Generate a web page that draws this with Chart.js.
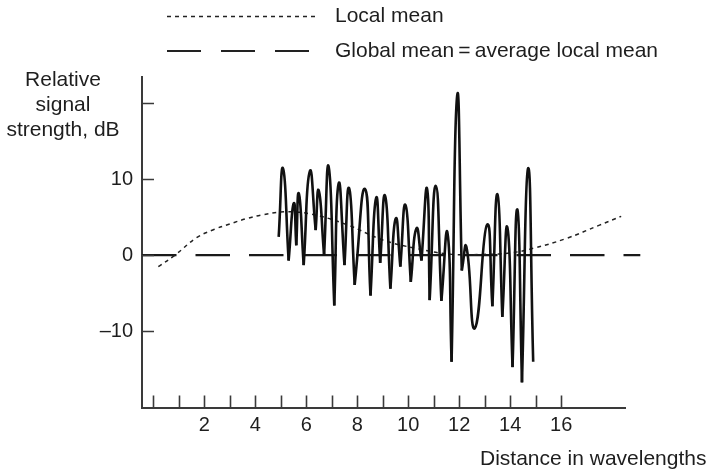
<!DOCTYPE html>
<html>
<head>
<meta charset="utf-8">
<title>Relative signal strength</title>
<script src="https://cdn.jsdelivr.net/npm/chart.js@4.4.1/dist/chart.umd.min.js"></script>
<style>
  html, body { margin: 0; padding: 0; background: #fff; }
  canvas { display: block; }
</style>
</head>
<body>
<canvas id="grafico" width="707" height="469"></canvas>
<script>
// fast fading signal, peaks and nulls
const signalX  = [4.92, 5.09, 5.31, 5.51, 5.61, 5.71, 5.90, 6.14, 6.37, 6.49, 6.70, 6.88, 7.10, 7.27, 7.50, 7.68, 7.90, 8.30, 8.52, 8.74, 8.90, 9.09, 9.30, 9.51, 9.69, 9.89, 10.10, 10.32, 10.52, 10.74, 10.84, 11.08, 11.30, 11.54, 11.70, 11.92, 12.10, 12.28, 12.61, 13.09, 13.30, 13.50, 13.69, 13.89, 14.09, 14.28, 14.46, 14.70, 14.90];
const signalDb = [2.4, 11.4, -0.7, 6.8, 1.3, 8.1, -1.3, 11.0, 3.3, 8.5, 0.0, 11.6, -6.6, 9.4, -1.3, 8.8, -3.9, 8.7, -5.3, 7.5, -1.0, 7.8, -4.4, 4.8, -1.5, 6.6, -3.5, 3.5, -0.7, 8.7, -5.9, 9.1, -6.0, 2.9, -14.0, 21.0, -2.0, 1.1, -9.6, 4.0, -6.7, 8.0, -8.1, 3.6, -14.7, 6.0, -16.7, 11.4, -14.0];
// the one dip that is a smooth valley, not a sharp null
const smoothDips = [12.61];

// local mean (dotted)
const localMeanX  = [0.2, 0.85, 1.7, 2.4, 3.0, 3.65, 4.3, 5.2, 6.2, 7.6, 9.0, 10.3, 11.6, 12.9, 14.0, 14.9, 16.2, 17.5, 18.35];
const localMeanDb = [-1.5, 0.0, 2.3, 3.4, 4.1, 4.8, 5.3, 5.7, 5.4, 4.0, 2.0, 0.9, 0.15, 0.1, 0.3, 0.9, 2.2, 3.95, 5.1];

// global mean (long dashes)
const globalMeanX  = [-0.44, 19.1];
const globalMeanDb = [0, 0];

const xTicks = [0, 1, 2, 3, 4, 5, 6, 7, 8, 9, 10, 11, 12, 13, 14, 15, 16];
const xTickLabels = ['', '', '2', '', '4', '', '6', '', '8', '', '10', '', '12', '', '14', '', '16'];
const yTicks = [-10, 0, 10, 20];
const yTickLabels = ['\u201310', '0', '10', ''];

const FONTE = '"Liberation Sans", Arial, Helvetica, sans-serif';
const COR_TEXTO = '#1e1e1e';
const COR_EIXO = '#3a3a3a';

function pares(xs, ys) {
    return xs.map((x, i) => ({ x: x, y: ys[i] }));
}

// cut the signal at every sharp null so each lobe gets its own curve
function lobulos(xs, ys) {
    const lista = [];
    let inicio = 0;
    for (let i = 1; i < ys.length; i++) {
        const ultimo = i === ys.length - 1;
        const nulo = !ultimo && ys[i] < ys[i - 1] && ys[i] < ys[i + 1] && !smoothDips.includes(xs[i]);
        if (nulo || ultimo) {
            lista.push({
                label: 'Signal',
                data: pares(xs.slice(inicio, i + 1), ys.slice(inicio, i + 1)),
                borderColor: '#111',
                borderWidth: 2.6,
                pointRadius: 0,
                tension: 0.55,
                fill: false
            });
            inicio = i;
        }
    }
    return lista;
}

// inward tick marks, axis titles and the legend block
const decoracao = {
    id: 'decoracao',
    afterDraw(chart) {
        const ctx = chart.ctx;
        const xs = chart.scales.x;
        const ys = chart.scales.y;
        const area = chart.chartArea;

        ctx.save();
        ctx.strokeStyle = COR_EIXO;
        ctx.lineWidth = 1.6;
        ctx.beginPath();
        xTicks.forEach(v => {
            const px = Math.round(xs.getPixelForValue(v)) + 0.5;
            ctx.moveTo(px, area.bottom);
            ctx.lineTo(px, area.bottom - 12);
        });
        yTicks.forEach(v => {
            const py = Math.round(ys.getPixelForValue(v)) + 0.5;
            ctx.moveTo(area.left, py);
            ctx.lineTo(area.left + 12, py);
        });
        ctx.stroke();

        ctx.fillStyle = COR_TEXTO;
        ctx.font = '21px ' + FONTE;
        ctx.textBaseline = 'middle';
        ctx.textAlign = 'center';
        ctx.fillText('Relative', 63, 80);
        ctx.fillText('signal', 63, 105);
        ctx.fillText('strength, dB', 63, 130);

        ctx.textAlign = 'left';
        ctx.fillText('Distance in wavelengths', 480, 459);

        // legend
        ctx.fillText('Local mean', 335, 16);
        ctx.fillText('Global mean\u2009=\u2009average local mean', 335, 51);

        ctx.strokeStyle = '#222';
        ctx.lineWidth = 1.5;
        ctx.setLineDash([4, 4]);
        ctx.beginPath();
        ctx.moveTo(167, 16.5);
        ctx.lineTo(317, 16.5);
        ctx.stroke();

        ctx.lineWidth = 2;
        ctx.setLineDash([34, 20]);
        ctx.beginPath();
        ctx.moveTo(167, 51);
        ctx.lineTo(309, 51);
        ctx.stroke();
        ctx.restore();
    }
};

const config = {
    type: 'line',
    data: {
        datasets: [
            ...lobulos(signalX, signalDb),
            {
                label: 'Local mean',
                data: pares(localMeanX, localMeanDb),
                borderColor: '#222',
                borderWidth: 1.5,
                borderDash: [4, 4],
                pointRadius: 0,
                tension: 0.4,
                fill: false,
                clip: false
            },
            {
                label: 'Global mean = average local mean',
                data: pares(globalMeanX, globalMeanDb),
                borderColor: '#1a1a1a',
                borderWidth: 2.2,
                borderDash: [34.5, 19],
                pointRadius: 0,
                fill: false,
                clip: false
            }
        ]
    },
    options: {
        responsive: false,
        animation: false,
        devicePixelRatio: 1,
        layout: { padding: { top: 77, right: 82, bottom: 0, left: 0 } },
        plugins: { legend: { display: false }, tooltip: { enabled: false } },
        scales: {
            x: {
                type: 'linear',
                min: -0.44,
                max: 18.5,
                afterBuildTicks: scale => { scale.ticks = xTicks.map(v => ({ value: v })); },
                afterFit: scale => { scale.height = 61.5; },
                grid: { display: false, drawTicks: false },
                border: { display: true, color: COR_EIXO, width: 2 },
                ticks: {
                    autoSkip: false,
                    maxRotation: 0,
                    padding: 6,
                    color: COR_TEXTO,
                    font: { family: FONTE, size: 20 },
                    callback: v => xTickLabels[xTicks.indexOf(v)] || ''
                }
            },
            y: {
                min: -20,
                max: 23.4,
                afterBuildTicks: scale => { scale.ticks = yTicks.map(v => ({ value: v })); },
                afterFit: scale => { scale.width = 142; },
                grid: { display: false, drawTicks: false },
                border: { display: true, color: COR_EIXO, width: 2 },
                ticks: {
                    padding: 9,
                    color: COR_TEXTO,
                    font: { family: FONTE, size: 20 },
                    callback: v => yTickLabels[yTicks.indexOf(v)]
                }
            }
        }
    },
    plugins: [decoracao]
};

new Chart(document.getElementById('grafico'), config);
</script>
</body>
</html>
